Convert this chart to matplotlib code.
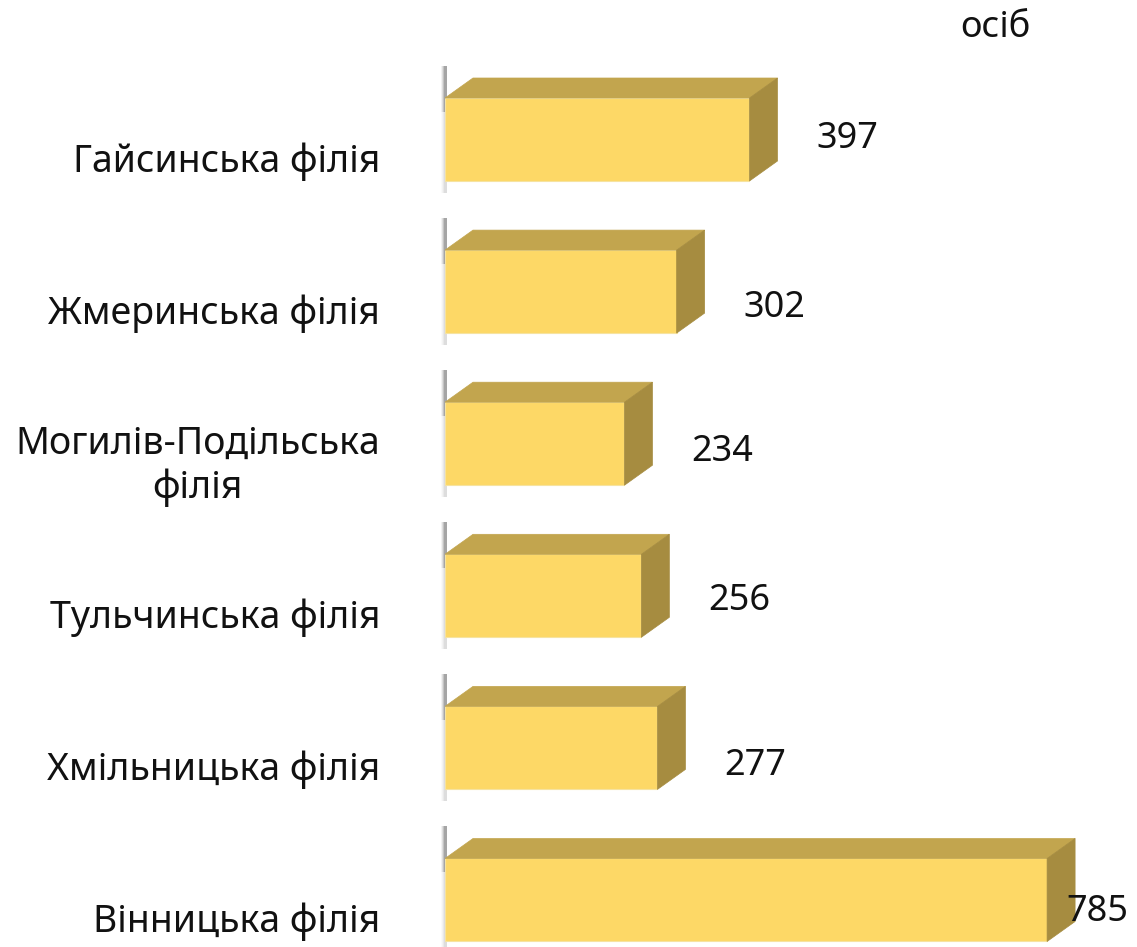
import matplotlib
matplotlib.use("Agg")
import matplotlib.pyplot as plt
from matplotlib.patches import Rectangle, Polygon

categories = ["Гайсинська філія", "Жмеринська філія", "Могилів-Подільська\nфілія",
              "Тульчинська філія", "Хмільницька філія", "Вінницька філія"]
values = [397, 302, 234, 256, 277, 785]
unit_label = "осіб"

# style
FRONT = "#FDD866"
TOP = "#C2A54E"
SIDE = "#A68C40"
W, H, DPI = 1137, 947, 100
x0_px = 445          # pixel of value 0
px_per_unit = 0.767
y0_px = 139.5        # centre of first bar front
step_px = 152.1
bar_h_px = 83
depth_dx_px, depth_dy_px = 28, 20
label_dy_px = [-1, 16, 8, 5, 18, 12]
cat_dy_px = 22

plt.rcParams['font.family'] = ['Noto Sans', 'DejaVu Sans']
fig = plt.figure(figsize=(W / DPI, H / DPI), dpi=DPI)
ax = fig.add_axes([x0_px / W, 0, (W - x0_px) / W, 1])
xmax = (W - x0_px) / px_per_unit
ax.set_xlim(0, xmax)
ytop = -y0_px / step_px
ybot = (H - y0_px) / step_px
ax.set_ylim(ybot, ytop)
ax.axis("off")

ux = 1 / px_per_unit       # data units per pixel (x)
uy = 1 / step_px           # data units per pixel (y)
bh = bar_h_px * uy
dx = depth_dx_px * ux
dy = depth_dy_px * uy

ys = list(range(len(values)))
bars = ax.barh(ys, values, height=bh, color=FRONT, edgecolor="#F6E3A0", linewidth=0.8, zorder=3)

for i, (y, v) in enumerate(zip(ys, values)):
    top = y - bh / 2
    bot = y + bh / 2
    # soft shadow strip left of the bar (darker near the top)
    for k, a in enumerate([0.08, 0.13, 0.2, 0.28]):
        off = (4 - k) * ux
        ax.add_patch(Rectangle((-off, top - dy - 12 * uy), off + 2 * ux, dy + 12 * uy + 14 * uy,
                               facecolor="#5a5a5a", edgecolor="none", alpha=a, zorder=1, clip_on=False))
        ax.add_patch(Rectangle((-off, top + 14 * uy), off + 2 * ux, bh + 12 * uy - 14 * uy,
                               facecolor="#8a8a8a", edgecolor="none", alpha=a * 0.45, zorder=1, clip_on=False))
    # top face
    ax.add_patch(Polygon([(0, top), (dx, top - dy), (v + dx, top - dy), (v, top)],
                         closed=True, facecolor=TOP, edgecolor=TOP, linewidth=0.5, zorder=4))
    # side face
    ax.add_patch(Polygon([(v, top), (v + dx, top - dy), (v + dx, bot - dy), (v, bot)],
                         closed=True, facecolor=SIDE, edgecolor=SIDE, linewidth=0.5, zorder=4))
    # value label
    lx = min(v + 98 * ux, xmax - 40 * ux)
    ax.text(lx, y + label_dy_px[i] * uy, str(v), ha="center", va="center",
            fontsize=26, color="#111111", zorder=5)
    # category label
    fig.text(380 / W, 1 - (y0_px + step_px * i + cat_dy_px) / H, categories[i],
             ha="right", va="center", fontsize=27, color="#111111",
             multialignment="center", linespacing=1.2)

fig.text(995 / W, 1 - 28 / H, unit_label, ha="center", va="center", fontsize=26, color="#111111")

fig.savefig("out.png", dpi=DPI, facecolor="white")
